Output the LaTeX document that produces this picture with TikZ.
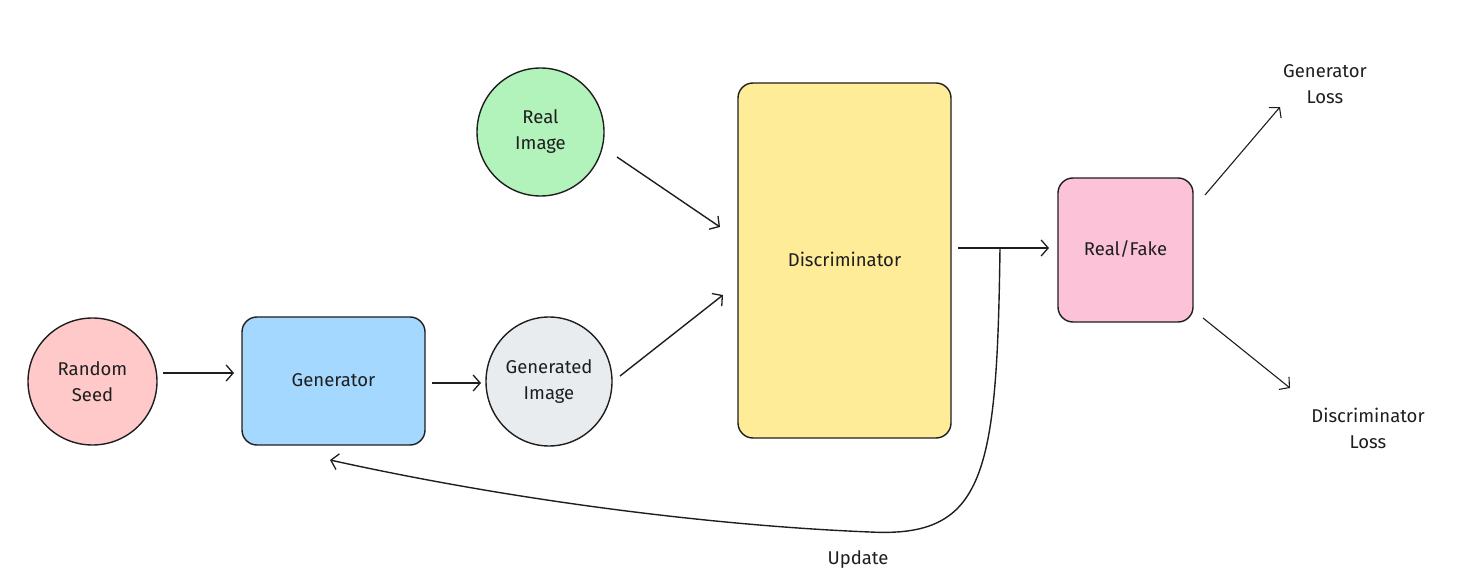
\documentclass[tikz,border=0pt]{standalone}
\usepackage{fontspec}
\setmainfont{Fira Sans}
\usetikzlibrary{arrows.meta,shapes.geometric}
\definecolor{ink}{HTML}{1E1E1E}
\definecolor{cred}{HTML}{FFC9C9}
\definecolor{cblue}{HTML}{A5D8FF}
\definecolor{cgray}{HTML}{E9ECEF}
\definecolor{cgreen}{HTML}{B2F2BB}
\definecolor{cyellow}{HTML}{FFEC99}
\definecolor{cpink}{HTML}{FCC2D7}
\tikzset{
  lbl/.style={font=\fontsize{18.5}{26}\selectfont, text=ink, align=center},
  blob/.style={ellipse, draw=ink, line width=1.4pt, inner sep=0pt, lbl},
  rbox/.style={rectangle, rounded corners=15pt, draw=ink, line width=1.4pt, inner sep=0pt, lbl},
  conn/.style={draw=ink, line width=1.4pt, -{Straight Barb[length=7pt,width=16pt,line width=1.3pt]}},
  thin/.style={draw=ink, line width=1.1pt, -{Straight Barb[length=7pt,width=16pt,line width=1.1pt]}}
}
\begin{document}
\begin{tikzpicture}[x=1pt,y=-1pt]
\useasboundingbox (0,0) rectangle (1475,585);
% nodes
\node[blob, fill=cred, minimum width=129pt, minimum height=127pt] (seed) at (92.5,381.5) {Random\\Seed};
\node[rbox, fill=cblue, minimum width=183pt, minimum height=128pt] (gen) at (333.5,381) {\raisebox{2pt}{Generator}};
\node[blob, fill=cgray, minimum width=126pt, minimum height=129pt] (gimg) at (549,381.5) {Generated\\Image};
\node[blob, fill=cgreen, minimum width=127pt, minimum height=128pt] (rimg) at (540.5,132) {Real\\Image};
\node[rbox, fill=cyellow, minimum width=213pt, minimum height=355pt] (disc) at (844.5,260.5) {\raisebox{2pt}{Discriminator}};
\node[rbox, fill=cpink, minimum width=135pt, minimum height=144pt] (rf) at (1125.5,250) {\raisebox{3pt}{Real/Fake}};
\node[lbl] (gl) at (1325,84) {Generator\\Loss};
\node[lbl] (dl) at (1368,428) {Discriminator\\Loss};
\node[lbl] (upd) at (858,560) {Update};
% connector anchors
\coordinate (a1s) at (163,373); \coordinate (a1e) at (234,373);
\coordinate (a2s) at (432,383); \coordinate (a2e) at (481,383);
\coordinate (a3s) at (617,157); \coordinate (a3e) at (720,227);
\coordinate (a4s) at (620,376); \coordinate (a4e) at (723,295);
\coordinate (a5s) at (958,248); \coordinate (a5e) at (1049,248);
\coordinate (a6s) at (1205,195); \coordinate (a6e) at (1280,107);
\coordinate (a7s) at (1203,318); \coordinate (a7e) at (1290,388);
\coordinate (us) at (1000,248); \coordinate (ue) at (330,460);
% connectors
\draw[conn] (a1s) -- (a1e);
\draw[conn] (a2s) -- (a2e);
\draw[conn] (a3s) -- (a3e);
\draw[conn] (a4s) -- (a4e);
\draw[conn] (a5s) -- (a5e);
\draw[thin] (a6s) -- (a6e);
\draw[thin] (a7s) -- (a7e);
\draw[conn] (us) .. controls (997,475) and (985,538) .. (870,532) .. controls (720,526) and (520,502) .. (ue);
\end{tikzpicture}
\end{document}
